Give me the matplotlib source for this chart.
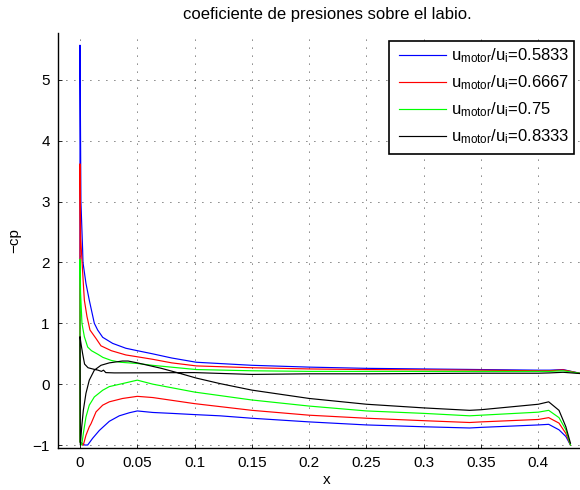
import matplotlib
matplotlib.use("Agg")
import matplotlib.pyplot as plt
from matplotlib.patches import Rectangle

plt.rcParams['font.family'] = ['Liberation Sans', 'DejaVu Sans']
plt.rcParams['mathtext.fontset'] = 'custom'
plt.rcParams['mathtext.rm'] = 'Liberation Sans'
plt.rcParams['mathtext.it'] = 'Liberation Sans'

title = "coeficiente de presiones sobre el labio."
xlabel = "x"
ylabel = "\u2212cp"
ratios = ["0.5833", "0.6667", "0.75", "0.8333"]
colors = ["#0000ff", "#ff0000", "#00ff00", "#000000"]

# series 1: u_motor/u_i = 0.5833
x_up_1 = [0, 0.0008, 0.0023, 0.0026, 0.0052, 0.0081, 0.0125, 0.0154, 0.0198, 0.0285, 0.04, 0.05, 0.063, 0.08, 0.1015, 0.15, 0.2, 0.25, 0.3, 0.35, 0.4, 0.41, 0.4215, 0.436, 0.45]
y_up_1 = [5.57, 3.0, 2.2, 2.0, 1.655, 1.38, 1.0, 0.89, 0.77, 0.67, 0.59, 0.55, 0.5, 0.43, 0.36, 0.31, 0.28, 0.26, 0.25, 0.24, 0.23, 0.23, 0.24, 0.18, 0.16]
x_lo_1 = [0.0, 0.004, 0.0067, 0.011, 0.0169, 0.0256, 0.0343, 0.043, 0.05, 0.0635, 0.08, 0.1, 0.122, 0.15, 0.2, 0.25, 0.3, 0.34, 0.35, 0.4, 0.409, 0.418, 0.424, 0.428]
y_lo_1 = [-0.95, -1.0, -1.0, -0.89, -0.76, -0.61, -0.52, -0.47, -0.44, -0.465, -0.48, -0.50, -0.52, -0.56, -0.62, -0.67, -0.70, -0.72, -0.71, -0.67, -0.66, -0.75, -0.86, -1.0]

# series 2: 0.6667
x_up_2 = [0, 0.0006, 0.0012, 0.0029, 0.0038, 0.0061, 0.0087, 0.014, 0.0183, 0.0273, 0.04, 0.05, 0.063, 0.08, 0.1015, 0.15, 0.2, 0.25, 0.3, 0.35, 0.4, 0.41, 0.4215, 0.436, 0.45]
y_up_2 = [3.62, 2.4, 2.2, 1.655, 1.38, 1.11, 0.89, 0.75, 0.63, 0.55, 0.48, 0.45, 0.41, 0.35, 0.30, 0.27, 0.25, 0.24, 0.235, 0.23, 0.22, 0.22, 0.235, 0.18, 0.16]
x_lo_2 = [0.0, 0.0029, 0.0052, 0.0081, 0.0096, 0.014, 0.0198, 0.0256, 0.0372, 0.05, 0.0635, 0.1, 0.15, 0.2, 0.25, 0.3, 0.34, 0.35, 0.4, 0.409, 0.418, 0.424, 0.428]
y_lo_2 = [-0.95, -1.0, -0.84, -0.70, -0.65, -0.455, -0.345, -0.29, -0.235, -0.20, -0.22, -0.32, -0.43, -0.51, -0.56, -0.60, -0.63, -0.62, -0.58, -0.55, -0.64, -0.81, -1.0]

# series 3: 0.75
x_up_3 = [0, 0.0005, 0.0017, 0.0038, 0.0067, 0.01, 0.0157, 0.02, 0.0273, 0.035, 0.05, 0.063, 0.1015, 0.15, 0.2, 0.25, 0.3, 0.35, 0.4, 0.41, 0.4215, 0.436, 0.45]
y_up_3 = [2.05, 1.5, 1.0, 0.78, 0.61, 0.55, 0.49, 0.44, 0.39, 0.36, 0.34, 0.31, 0.24, 0.22, 0.21, 0.21, 0.21, 0.21, 0.21, 0.21, 0.22, 0.18, 0.16]
x_lo_3 = [0.0, 0.0015, 0.0029, 0.0052, 0.0081, 0.0125, 0.0198, 0.0256, 0.0372, 0.05, 0.0635, 0.1, 0.15, 0.2, 0.25, 0.3, 0.34, 0.35, 0.4, 0.409, 0.418, 0.424, 0.428]
y_lo_3 = [-0.95, -1.0, -0.81, -0.54, -0.345, -0.21, -0.10, -0.04, 0.01, 0.066, 0.0, -0.13, -0.26, -0.36, -0.44, -0.48, -0.52, -0.51, -0.46, -0.43, -0.55, -0.75, -1.0]

# series 4: 0.8333
x_up_4 = [0, 0.001, 0.0023, 0.004, 0.007, 0.011, 0.0157, 0.0187, 0.0205, 0.0225, 0.03, 0.05, 0.1, 0.15, 0.2, 0.25, 0.3, 0.35, 0.4, 0.41, 0.4215, 0.436, 0.45]
y_up_4 = [0.78, 0.65, 0.50, 0.33, 0.27, 0.25, 0.23, 0.21, 0.23, 0.19, 0.185, 0.186, 0.19, 0.16, 0.17, 0.17, 0.175, 0.18, 0.18, 0.185, 0.195, 0.175, 0.16]
x_lo_4 = [0.0003, 0.0015, 0.0029, 0.0052, 0.0081, 0.0125, 0.0183, 0.0256, 0.037, 0.042, 0.05, 0.071, 0.0855, 0.1015, 0.122, 0.15, 0.2, 0.25, 0.3, 0.34, 0.35, 0.4, 0.409, 0.418, 0.424, 0.428]
y_lo_4 = [-1.0, -0.70, -0.43, -0.15, 0.066, 0.23, 0.31, 0.35, 0.38, 0.38, 0.35, 0.26, 0.186, 0.10, 0.01, -0.098, -0.235, -0.33, -0.39, -0.43, -0.42, -0.33, -0.29, -0.43, -0.70, -0.97]

x_ticks = [0, 0.05, 0.1, 0.15, 0.2, 0.25, 0.3, 0.35, 0.4]
x_ticklabels = ["0", "0.05", "0.1", "0.15", "0.2", "0.25", "0.3", "0.35", "0.4"]
y_ticks = [-1, 0, 1, 2, 3, 4, 5]
y_ticklabels = ["\u22121", "0", "1", "2", "3", "4", "5"]

series = [
    (x_lo_1, y_lo_1, x_up_1, y_up_1),
    (x_lo_2, y_lo_2, x_up_2, y_up_2),
    (x_lo_3, y_lo_3, x_up_3, y_up_3),
    (x_lo_4, y_lo_4, x_up_4, y_up_4),
]

W, H = 580, 490
fig = plt.figure(figsize=(W / 100, H / 100), dpi=100)
ax = fig.add_axes([58 / W, 1 - 447.7 / H, (596 - 58) / W, (447.7 - 33) / H])

for (xl, yl, xu, yu), r, c in zip(series, ratios, colors):
    xs = list(reversed(xl)) + list(xu)
    ys = list(reversed(yl)) + list(yu)
    ax.plot(xs, ys, color=c, lw=0.85,
            label=r"u$_{\mathrm{motor}}$/u$_{\mathrm{i}}$=" + r)

ax.set_xlim(-0.0192, 0.4503)
ax.set_ylim(-1.044, 5.77)
ax.set_xticks(x_ticks)
ax.set_xticklabels(x_ticklabels)
ax.set_yticks(y_ticks)
ax.set_yticklabels(y_ticklabels)
ax.tick_params(direction='in', length=3, labelsize=11, width=0.6, pad=6)
ax.grid(True, color='black', lw=0.6, dashes=(1, 8.6))
ax.spines['top'].set_visible(False)
ax.spines['right'].set_visible(False)
for s in ['left', 'bottom']:
    ax.spines[s].set_linewidth(1.0)

ax.set_xlabel(xlabel, fontsize=11, labelpad=2)
ax.set_ylabel(ylabel, fontsize=11, labelpad=8)
ax.set_title(title, fontsize=12, pad=10)

# legend box (MATLAB-style frame)
frame = Rectangle((389 / W, 1 - 154 / H), 185 / W, 113 / H,
                  transform=fig.transFigure, facecolor='white',
                  edgecolor='black', lw=1.2, zorder=4)
fig.add_artist(frame)

leg = fig.legend(loc='upper left', bbox_to_anchor=(399 / W, 1 - 46.5 / H),
                 bbox_transform=fig.transFigure, borderaxespad=0,
                 fontsize=12, frameon=False, handlelength=2.8,
                 handletextpad=0.3, labelspacing=0.5, borderpad=0)
leg.set_zorder(5)

fig.savefig("out.png", dpi=100)
